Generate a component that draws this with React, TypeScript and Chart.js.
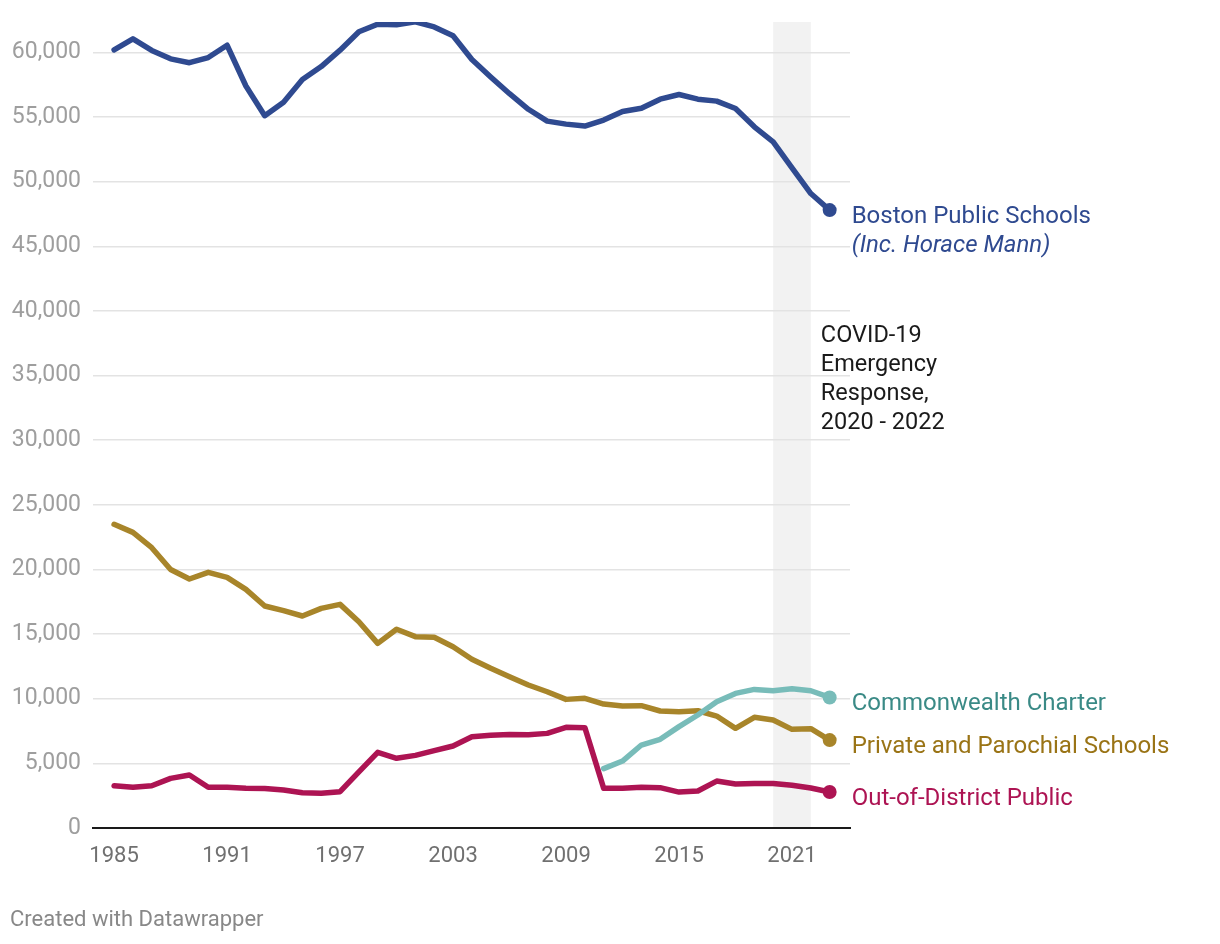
import React, { useEffect, useRef } from "react";
import { Chart, registerables } from "chart.js";

Chart.register(...registerables);

const years = [
  1985, 1986, 1987, 1988, 1989, 1990, 1991, 1992, 1993, 1994, 1995, 1996, 1997,
  1998, 1999, 2000, 2001, 2002, 2003, 2004, 2005, 2006, 2007, 2008, 2009, 2010,
  2011, 2012, 2013, 2014, 2015, 2016, 2017, 2018, 2019, 2020, 2021, 2022, 2023,
];

const bostonPublic = [
  60200, 61050, 60150, 59500, 59200, 59600, 60550, 57400, 55100, 56150, 57900,
  58900, 60170, 61600, 62180, 62130, 62360, 61970, 61280, 59450, 58100, 56800,
  55600, 54680, 54450, 54300, 54760, 55430, 55680, 56380, 56740, 56380, 56230,
  55660, 54240, 53080, 51070, 49080, 47800,
];

const privateParochial = [
  23490, 22870, 21680, 20000, 19260, 19780, 19390, 18460, 17170, 16810, 16400,
  16990, 17300, 15960, 14280, 15370, 14800, 14750, 14020, 13050, 12350, 11700,
  11060, 10540, 9950, 10030, 9590, 9440, 9460, 9050, 9000, 9070, 8660, 7710,
  8560, 8350, 7630, 7680, 6800,
];

const outOfDistrict = [
  3270, 3150, 3270, 3840, 4100, 3150, 3150, 3070, 3050, 2940, 2730, 2680, 2810,
  4350, 5850, 5390, 5620, 5980, 6340, 7060, 7170, 7240, 7220, 7320, 7790, 7760,
  3070, 3070, 3150, 3120, 2780, 2860, 3630, 3400, 3450, 3450, 3300, 3090, 2780,
];

const commonwealthCharter = [
  null, null, null, null, null, null, null, null, null, null, null, null, null,
  null, null, null, null, null, null, null, null, null, null, null, null, null,
  4590, 5180, 6420, 6860, 7840, 8740, 9770, 10410, 10720, 10620, 10780, 10620, 10100,
];

const xTickYears = [1985, 1991, 1997, 2003, 2009, 2015, 2021];
const yTickValues = [0, 5000, 10000, 15000, 20000, 25000, 30000, 35000, 40000, 45000, 50000, 55000, 60000];

const covidStart = 2020;
const covidEnd = 2022;
const covidLines = ["COVID-19", "Emergency", "Response,", "2020 - 2022"];

const seriesDefs = [
  { key: "boston", name: "Boston Public Schools", sub: "(Inc. Horace Mann)", values: bostonPublic, line: "#2f4a90", text: "#2f4a90" },
  { key: "charter", name: "Commonwealth Charter", sub: null, values: commonwealthCharter, line: "#78bcb9", text: "#3a8a86" },
  { key: "private", name: "Private and Parochial Schools", sub: null, values: privateParochial, line: "#a8852a", text: "#9a7416" },
  { key: "ood", name: "Out-of-District Public", sub: null, values: outOfDistrict, line: "#ad1453", text: "#ad1453" },
];

const FONT = "Roboto, 'Noto Sans', sans-serif";

export default function App() {
  const ref = useRef<HTMLCanvasElement | null>(null);

  useEffect(() => {
    if (!ref.current) return;

    const overlay = {
      id: "overlay",
      beforeDraw(chart: any) {
        const { ctx, chartArea, scales } = chart;
        const x0 = scales.x.getPixelForValue(covidStart);
        const x1 = scales.x.getPixelForValue(covidEnd);
        ctx.save();
        ctx.fillStyle = "#f2f2f2";
        ctx.fillRect(x0, chartArea.top, x1 - x0, chartArea.bottom - chartArea.top);
        ctx.restore();
      },
      afterDraw(chart: any) {
        const { ctx, scales } = chart;
        ctx.save();
        ctx.textBaseline = "middle";
        ctx.textAlign = "left";
        const lx = scales.x.getPixelForValue(2023) + 22;
        seriesDefs.forEach((s) => {
          const last = s.values[s.values.length - 1] as number;
          const py = scales.y.getPixelForValue(last) + 6.5;
          ctx.fillStyle = s.text;
          ctx.font = `24px ${FONT}`;
          ctx.fillText(s.name, lx, py);
          if (s.sub) {
            ctx.font = `italic 24px ${FONT}`;
            ctx.fillText(s.sub, lx, py + 29);
          }
        });
        // COVID annotation
        ctx.fillStyle = "#1a1a1a";
        ctx.font = `23.5px ${FONT}`;
        const cx = scales.x.getPixelForValue(covidEnd) + 10;
        covidLines.forEach((t, i) => ctx.fillText(t, cx, 336 + i * 29));
        // footer
        ctx.fillStyle = "#888888";
        ctx.font = `22px ${FONT}`;
        ctx.fillText("Created with Datawrapper", 10, 920);
        ctx.restore();
      },
    };

    const datasets = seriesDefs.map((s) => ({
      label: s.name,
      data: years.map((yr, i) => ({ x: yr, y: s.values[i] })),
      borderColor: s.line,
      backgroundColor: s.line,
      borderWidth: 5.5,
      pointRadius: years.map((_, i) => (i === years.length - 1 ? 7 : 0)),
      pointHoverRadius: 0,
      pointBorderWidth: 0,
      tension: 0,
      spanGaps: false,
      borderJoinStyle: "round" as const,
      borderCapStyle: "round" as const,
    }));

    const chart = new Chart(ref.current, {
      type: "line",
      data: { datasets },
      options: {
        animation: false,
        responsive: false,
        maintainAspectRatio: false,
        layout: { padding: { left: 0, right: 370, top: 22, bottom: 0 } },
        plugins: { legend: { display: false }, tooltip: { enabled: false } },
        scales: {
          x: {
            type: "linear",
            min: 1983.88,
            max: 2024.08,
            afterBuildTicks: (scale: any) => {
              scale.ticks = xTickYears.map((v) => ({ value: v }));
            },
            afterFit: (scale: any) => {
              scale.height = 944 - 828;
              scale.paddingLeft = 0;
              scale.paddingRight = 0;
            },
            grid: { display: false, drawTicks: false },
            border: { display: true, color: "#1a1a1a", width: 2 },
            ticks: {
              color: "#707070",
              font: { family: FONT, size: 22 },
              padding: 15,
              autoSkip: false,
              maxRotation: 0,
              callback: (v: any) => String(v),
            },
          },
          y: {
            type: "linear",
            min: 0,
            max: 62350,
            afterBuildTicks: (scale: any) => {
              scale.ticks = yTickValues.map((v) => ({ value: v }));
            },
            afterFit: (scale: any) => {
              scale.width = 93;
              scale.paddingTop = 0;
              scale.paddingBottom = 0;
            },
            grid: {
              color: (c: any) => (c.tick && c.tick.value === 0 ? "rgba(0,0,0,0)" : "#e3e3e3"),
              lineWidth: 1.5,
              drawTicks: false,
            },
            border: { display: false },
            ticks: {
              color: "#9e9e9e",
              font: { family: FONT, size: 23 },
              padding: 12,
              callback: (v: any) => Number(v).toLocaleString("en-US"),
            },
          },
        },
      },
      plugins: [overlay],
    });

    return () => chart.destroy();
  }, []);

  return (
    <div style={{ position: "absolute", left: 0, top: 0, width: 1220, height: 944, background: "#fff" }}>
      <canvas ref={ref} width={1220} height={944} style={{ display: "block" }} />
    </div>
  );
}
